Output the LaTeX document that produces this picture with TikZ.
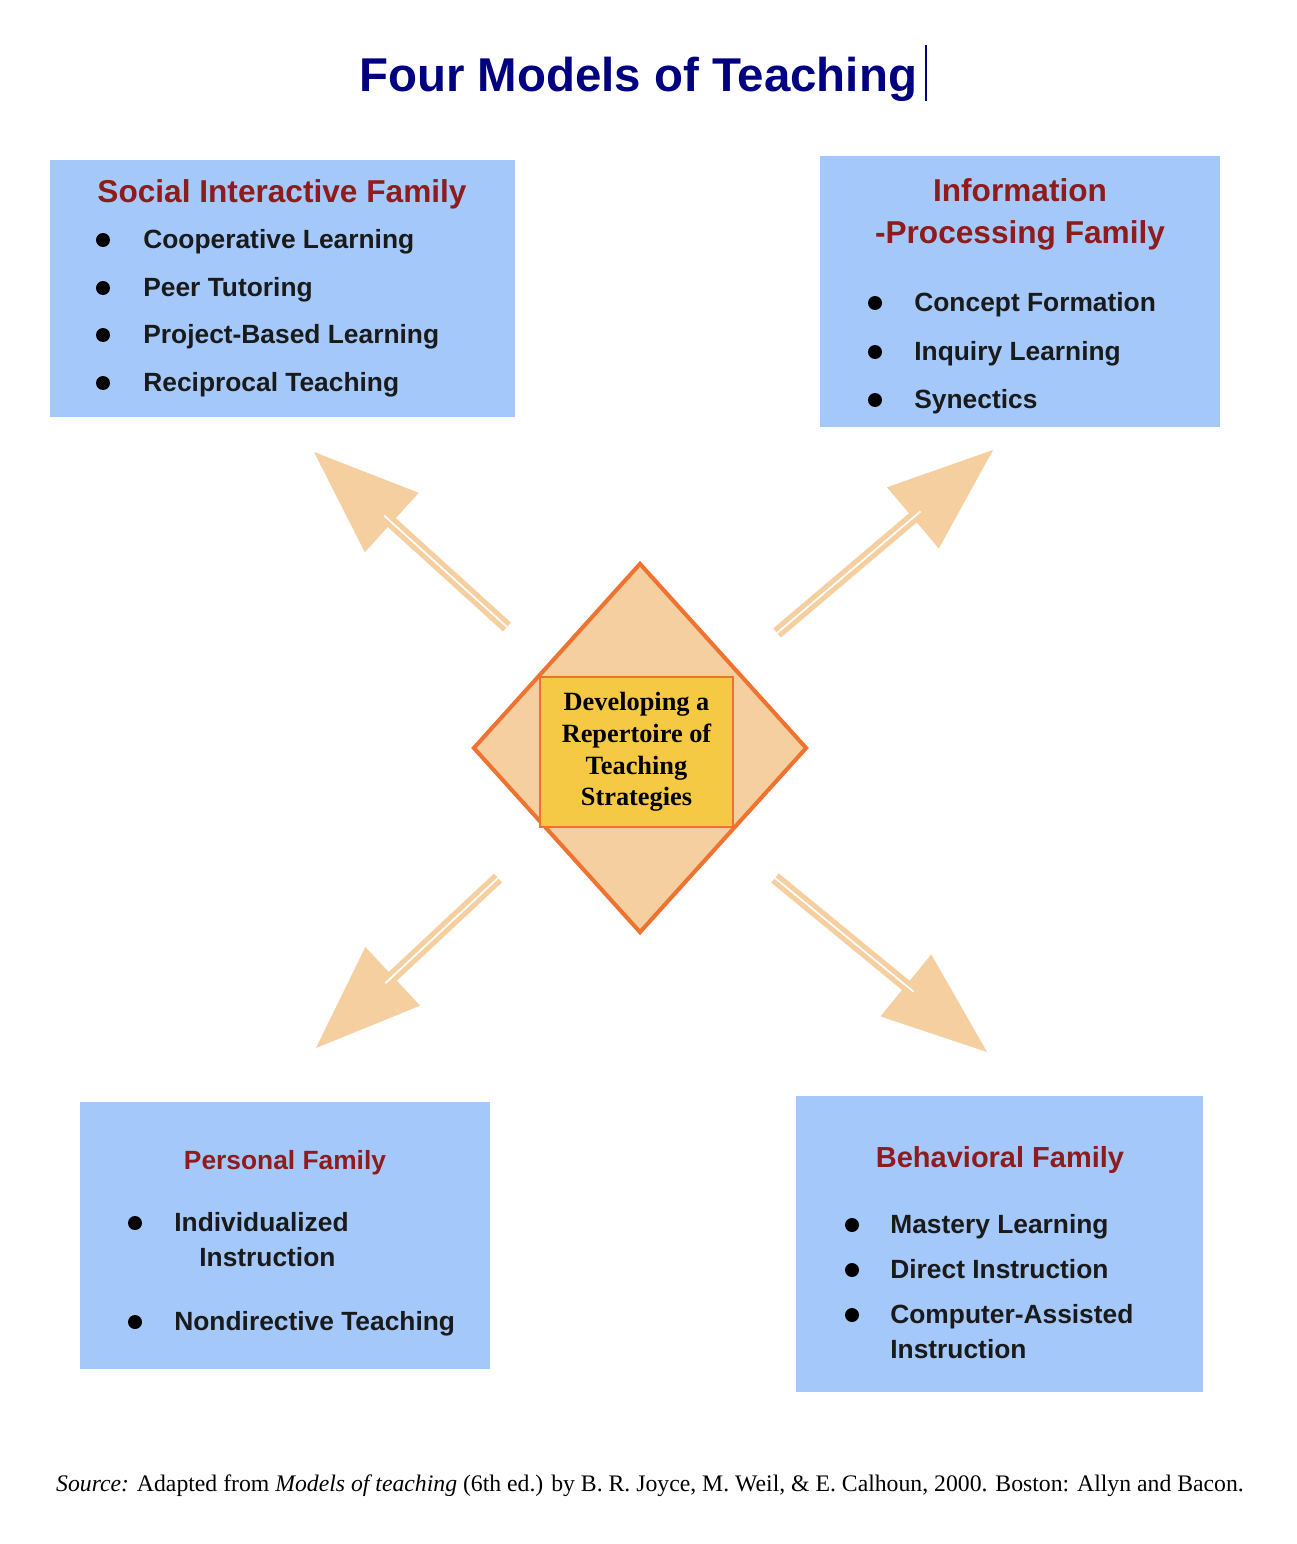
\documentclass[tikz,border=0pt]{standalone}
\usepackage{fontspec}
\setmainfont{Liberation Serif}
\setsansfont{Liberation Sans}
\usetikzlibrary{arrows.meta,positioning,shapes.geometric,calc}
\definecolor{titleblue}{HTML}{000080}
\definecolor{familyred}{HTML}{8E1C1C}
\definecolor{boxblue}{HTML}{A4C8F9}
\definecolor{peach}{HTML}{F6CFA0}
\definecolor{rim}{HTML}{EE7330}
\definecolor{gold}{HTML}{F5C943}
\definecolor{inktext}{HTML}{1A1A1A}
\tikzset{
  familybox/.style={rectangle, fill=boxblue, inner sep=0pt},
  familytitle/.style={font=\sffamily\bfseries\fontsize{18}{24}\selectfont, text=familyred,
    align=center, inner sep=0pt},
  itemtext/.style={font=\sffamily\bfseries\fontsize{15}{17}\selectfont, text=inktext,
    anchor=west, inner sep=0pt, text height=1em, text depth=0.05em},
  bulletdot/.style={circle, fill=black, inner sep=0pt, minimum size=0.28cm},
  shaft/.style={draw=peach, line width=2.9pt, double=white, double distance=1pt, shorten >=1.9cm},
  headtip/.style={draw=peach, line width=0.4pt, -{Triangle[length=2.1cm, width=1.6cm, fill=peach]}},
  hub/.style={diamond, draw=rim, fill=peach, line width=2.3pt, inner sep=0pt,
    minimum width=6.68cm, minimum height=7.4cm},
  hubtext/.style={rectangle, draw=rim, fill=gold, line width=0.8pt, align=center,
    minimum width=3.86cm, minimum height=3cm, inner sep=0pt,
    font=\bfseries\fontsize{15}{18}\selectfont}
}
\begin{document}
\begin{tikzpicture}[x=0.02cm, y=-0.02cm]
    \useasboundingbox (0,0) rectangle (1296,1544);
    \node[font=\sffamily\bfseries\fontsize{27}{32}\selectfont, text=titleblue, inner sep=0pt]
      (title) at (638,79) {Four Models of Teaching};
    \draw[titleblue, line width=1.2pt] (926,45) -- (926,101);

    \node[familybox, minimum width=9.3cm, minimum height=5.14cm] (social) at (282.5,288.5) {};
    \node[familytitle] (social-t) at (282,194) {Social Interactive Family};
    \foreach \t/\y [count=\i] in {Cooperative Learning/240, Peer Tutoring/288,
        Project-Based Learning/335, Reciprocal Teaching/383} {
      \node[bulletdot] (social-b\i) at (103,\y) {};
      \node[itemtext] (social-i\i) at (143,\y) {\t};
    }

    \node[familybox, minimum width=8cm, minimum height=5.42cm] (info) at (1020,291.5) {};
    \node[familytitle] (info-t) at (1020,214) {Information\\-Processing Family};
    \foreach \t/\y [count=\i] in {Concept Formation/303, Inquiry Learning/352, Synectics/400} {
      \node[bulletdot] (info-b\i) at (875,\y) {};
      \node[itemtext] (info-i\i) at (914,\y) {\t};
    }

    \node[familybox, minimum width=8.2cm, minimum height=5.34cm] (personal) at (285,1235.5) {};
    \node[familytitle, font=\sffamily\bfseries\fontsize{15}{18}\selectfont] (personal-t) at (285,1163) {Personal Family};
    \node[bulletdot] (personal-b1) at (135,1223) {};
    \node[itemtext] (personal-i1) at (174,1223) {Individualized};
    \node[itemtext] (personal-i1b) at (199,1258) {Instruction};
    \node[bulletdot] (personal-b2) at (135,1322) {};
    \node[itemtext] (personal-i2) at (174,1322) {Nondirective Teaching};

    \node[familybox, minimum width=8.14cm, minimum height=5.92cm] (behav) at (999.5,1244) {};
    \node[familytitle, font=\sffamily\bfseries\fontsize{16.5}{20}\selectfont] (behav-t) at (1000,1160) {Behavioral Family};
    \foreach \t/\y [count=\i] in {Mastery Learning/1225, Direct Instruction/1270, Computer-Assisted/1315} {
      \node[bulletdot] (behav-b\i) at (852,\y) {};
      \node[itemtext] (behav-i\i) at (890,\y) {\t};
    }
    \node[itemtext] (behav-i3b) at (890,1350) {Instruction};

    \node[hub] (hub) at (640,748) {};
    \node[hubtext] (core) at (636.5,752) {Developing a\\Repertoire of\\Teaching\\Strategies};

    \coordinate (nw-tail) at (507,627);  \coordinate (nw-tip) at (314,452);
    \coordinate (ne-tail) at (777,633);  \coordinate (ne-tip) at (993,450);
    \coordinate (sw-tail) at (498,878);  \coordinate (sw-tip) at (316,1048);
    \coordinate (se-tail) at (775,878);  \coordinate (se-tip) at (987,1052);
    \foreach \d in {nw,ne,sw,se} {
      \draw[headtip] (\d-tail) -- (\d-tip);
      \draw[shaft] (\d-tail) -- (\d-tip);
    }

    \node[font=\fontsize{13.5}{15}\selectfont, inner sep=0pt] (source) at (650,1486)
      {\textit{Source:} Adapted from \textit{Models of teaching} (6th ed.) by B. R. Joyce, M. Weil, \& E. Calhoun, 2000. Boston: Allyn and Bacon.};
  \end{tikzpicture}
\end{document}
